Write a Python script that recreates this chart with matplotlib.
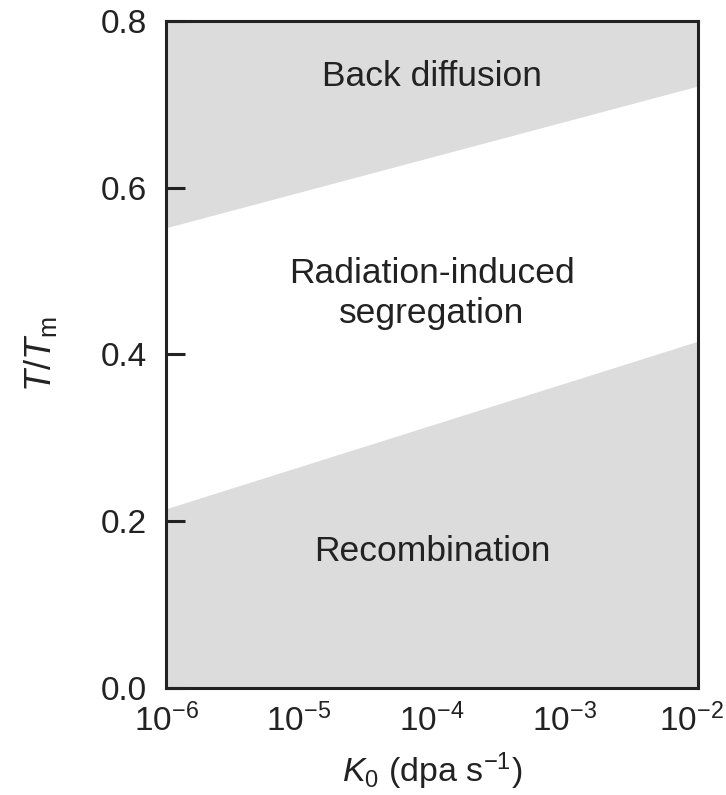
import numpy as np
import matplotlib.pyplot as plt
from matplotlib.transforms import ScaledTranslation

# Dose rate range (dpa/s) and regime boundaries in T/Tm
K0 = [1e-6, 1e-2]
lower_bound = [0.215, 0.416]
upper_bound = [0.552, 0.722]
y_max = 0.8

regions = ['Back diffusion', 'Radiation-induced\nsegregation', 'Recombination']
region_x = [1e-4, 1e-4, 1e-4]
region_y = [0.733, 0.473, 0.164]

xtick_vals = [1e-6, 1e-5, 1e-4, 1e-3, 1e-2]
xtick_labels = [r'10$^{-6}$', r'10$^{-5}$', r'10$^{-4}$', r'10$^{-3}$', r'10$^{-2}$']
ytick_vals = [0.0, 0.2, 0.4, 0.6, 0.8]
ytick_labels = ['0.0', '0.2', '0.4', '0.6', '0.8']

plt.rcParams['font.family'] = ['Liberation Sans', 'DejaVu Sans']
plt.rcParams['mathtext.fontset'] = 'custom'
plt.rcParams['mathtext.rm'] = 'Liberation Sans'
plt.rcParams['mathtext.it'] = 'Liberation Sans:italic'

fig = plt.figure(figsize=(7.26, 7.95), dpi=100)
ax = fig.add_axes([0.2287, 0.1346, 0.7327, 0.839])

gray = '#dcdcdc'
ax.fill_between(K0, 0, lower_bound, color=gray, lw=0)
ax.fill_between(K0, upper_bound, y_max, color=gray, lw=0)

for label, x, y in zip(regions, region_x, region_y):
    ax.text(x, y, label, ha='center', va='center', fontsize=25.5, color='#222222',
            linespacing=1.25)

ax.set_xscale('log')
ax.set_xlim(K0)
ax.set_ylim(0, y_max)
ax.set_xticks(xtick_vals)
ax.set_xticklabels(xtick_labels)
ax.minorticks_off()
ax.set_yticks(ytick_vals)
ax.set_yticklabels(ytick_labels)

ax.tick_params(axis='x', length=0, labelsize=24, pad=11, colors='#222222')
ax.tick_params(axis='y', direction='in', length=14, width=2.2, labelsize=24, pad=14,
               colors='#222222')

# nudge the last x label left so it stays inside the figure
last = ax.get_xticklabels()[-1]
last.set_transform(last.get_transform() + ScaledTranslation(-5 / 72, 0, fig.dpi_scale_trans))

for s in ax.spines.values():
    s.set_linewidth(2.2)
    s.set_color('#222222')

ax.set_xlabel(r'$K_0$ (dpa s$^{-1}$)', fontsize=24.5, color='#222222', labelpad=9)
ax.set_ylabel(r'$T/T_\mathrm{m}$', fontsize=26, color='#222222', labelpad=30)

fig.savefig('out.png', dpi=100)
